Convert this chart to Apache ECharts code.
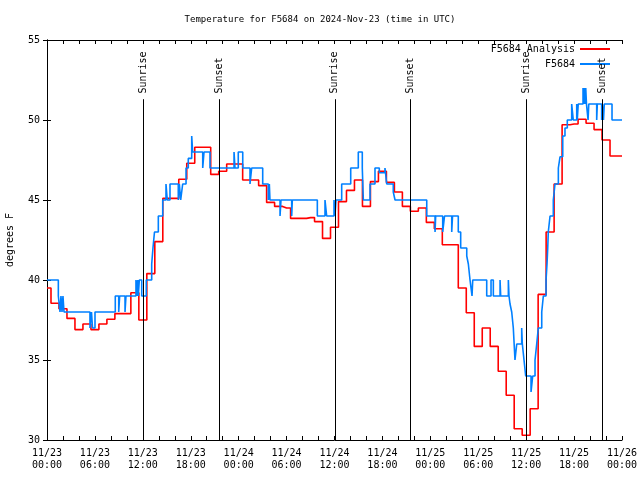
<!DOCTYPE html>
<html>
<head>
<meta charset="utf-8">
<script src="https://cdn.jsdelivr.net/npm/echarts@6/dist/echarts.min.js"></script>
<style>html,body{margin:0;padding:0;background:#fff;}#c{width:640px;height:480px;}</style>
</head>
<body>
<div id="c"></div>
<script>
// Hourly analysis temperatures (hour 0 = 11/23 00:00 UTC)
const analysisTemps = [39.5,38.55,38.2,37.6,36.9,37.25,36.9,37.25,37.55,37.9,37.9,39.2,37.5,40.4,42.4,45.1,45.1,46.3,47.3,48.3,48.3,46.6,46.8,47.25,47.25,46.25,46.25,45.9,44.85,44.6,44.5,43.85,43.85,43.9,43.65,42.6,43.3,44.9,45.6,46.25,44.6,46.15,46.8,46.1,45.5,44.6,44.3,44.5,43.6,43.2,42.2,42.2,39.5,37.95,35.85,37.0,35.85,34.3,32.8,30.7,30.3,31.95,39.1,43.0,46.0,49.7,49.75,50.05,49.8,49.4,48.75,47.75,47.75];
// Station observations: change times (hours since 11/23 00:00 UTC) and temperatures
const stationTimes = [0,1.42,1.63,1.75,1.88,2.00,2.13,5.38,5.57,5.70,6.01,8.55,8.98,9.10,9.77,9.89,11.14,11.27,11.36,11.43,11.56,11.86,12.43,13.11,13.27,13.46,13.94,14.49,14.90,15.06,15.40,16.44,16.57,16.74,16.99,17.41,17.69,18.12,18.24,19.50,19.66,20.41,23.42,23.54,23.95,24.51,25.42,25.63,27.01,27.71,27.84,27.92,29.18,29.30,30.64,30.72,33.85,34.81,35.02,35.94,36.06,36.19,36.90,38.03,38.98,39.48,39.61,40.45,41.07,41.61,42.32,42.54,43.36,43.58,47.55,48.59,48.67,49.55,49.78,50.68,50.78,51.50,51.80,52.56,52.76,52.97,53.22,53.31,55.06,55.60,55.89,56.73,56.81,57.77,57.85,57.98,58.19,58.39,58.60,58.82,59.44,59.52,59.73,59.94,60.61,60.82,61.11,61.32,61.52,61.95,62.15,62.49,62.61,62.70,62.77,62.99,63.40,63.61,64.03,64.24,64.58,64.86,65.15,65.70,65.90,66.33,66.40,66.52,67.12,67.18,67.27,67.36,67.46,67.55,67.75,67.84,68.83,68.91,69.45,69.53,69.68,69.78,70.75,72.00];
const stationTemps = [40,39,38,39,38,39,38,37,38,37,38,39,38,39,38,39,40,39,40,39,40,39,40,41,42,43,44,45,46,45,46,45,46,45,46,47,47.6,49,48,47,48,47,48,47,48,47,46,47,46,45,46,45,44,45,44,45,44,45,44,45,44,45,46,47,48,47,45,46,47,46.7,47,46,45.5,45,44,43,44,43,44,43,44,43,42,41.5,41,40,39,40,39,40,39,40,39,40,39,38.5,38,37,35,36,37,36,35,34,33,34,35,36,37,38,39,40,41,42,43,44,45,46,47,47.7,49,49.5,50,51,50,51,50,51,52,51,52,51,52,51,50,51,50,51,50,51,50,51,50,50];
const sunriseTimes = [12.05, 36.05, 60.07];
const sunsetTimes = [21.57, 45.5, 69.5];
const xTickLabels = ['11/23\n00:00','11/23\n06:00','11/23\n12:00','11/23\n18:00','11/24\n00:00','11/24\n06:00','11/24\n12:00','11/24\n18:00','11/25\n00:00','11/25\n06:00','11/25\n12:00','11/25\n18:00','11/26\n00:00'];
const yTicks = [30,35,40,45,50,55];

const FONT = 'DejaVu Sans Mono';
const chart = echarts.init(document.getElementById('c'), null, {renderer:'canvas'});

const sunLines = [];
const sunLabels = [];
sunriseTimes.forEach(t => {
  sunLines.push([{coord:[t,30]},{coord:[t,51.3]}]);
  sunLabels.push({coord:[t,51.65], value:'Sunrise'});
});
sunsetTimes.forEach(t => {
  sunLines.push([{coord:[t,30]},{coord:[t,51.3]}]);
  sunLabels.push({coord:[t,51.65], value:'Sunset'});
});

const axisLineStyle = {show:true, lineStyle:{color:'#000', width:1}};
const tickStyle = {show:true, inside:true, length:4, lineStyle:{color:'#000', width:1}};

chart.setOption({
  animation:false,
  backgroundColor:'#fff',
  textStyle:{fontFamily:FONT},
  title:{
    text:'Temperature for F5684 on 2024-Nov-23 (time in UTC)',
    left:'center', top:10,
    textStyle:{fontFamily:FONT, fontSize:9, fontWeight:'normal', color:'#000'}
  },
  legend:{
    orient:'vertical', right:30, top:44, align:'right', padding:0,
    itemWidth:30, itemHeight:2, itemGap:5, icon:'rect',
    textStyle:{fontFamily:FONT, fontSize:10, color:'#000'},
    data:['F5684 Analysis','F5684']
  },
  grid:{left:47, right:18, top:40, bottom:40, containLabel:false, outerBoundsMode:'none'},
  xAxis:[{
    type:'value', min:0, max:72, interval:2, position:'bottom',
    axisLine:axisLineStyle, axisTick:tickStyle, splitLine:{show:false},
    axisLabel:{
      fontFamily:FONT, fontSize:10, color:'#000', lineHeight:12, margin:7,
      formatter:v => (v % 6 === 0 ? xTickLabels[v/6] : '')
    }
  },{
    type:'value', min:0, max:72, interval:2, position:'top',
    axisLine:axisLineStyle, axisTick:tickStyle, splitLine:{show:false}, axisLabel:{show:false}
  }],
  yAxis:[{
    type:'value', min:yTicks[0], max:yTicks[yTicks.length-1], interval:5, position:'left',
    name:'degrees F', nameLocation:'middle', nameGap:32, nameRotate:90,
    nameTextStyle:{fontFamily:FONT, fontSize:10, color:'#000'},
    axisLine:axisLineStyle, axisTick:tickStyle, splitLine:{show:false},
    axisLabel:{fontFamily:FONT, fontSize:10, color:'#000', margin:7}
  },{
    type:'value', min:yTicks[0], max:yTicks[yTicks.length-1], interval:5, position:'right',
    axisLine:axisLineStyle, axisTick:tickStyle, splitLine:{show:false}, axisLabel:{show:false}
  }],
  series:[{
    name:'F5684 Analysis', type:'line', step:'middle', showSymbol:false, symbol:'none',
    color:'#ff0000', lineStyle:{color:'#ff0000', width:1.6},
    data:analysisTemps.map((v,i)=>[i,v]),
    markLine:{
      silent:true, symbol:['none','none'], animation:false,
      lineStyle:{color:'#000', width:1, type:'solid'}, label:{show:false},
      data:sunLines
    },
    markPoint:{
      silent:true, symbol:'circle', symbolSize:1, itemStyle:{color:'rgba(0,0,0,0)'},
      label:{show:true, position:'inside', rotate:90, align:'left', verticalAlign:'middle',
        fontFamily:FONT, fontSize:10, color:'#000', formatter:p=>p.value},
      data:sunLabels
    }
  },{
    name:'F5684', type:'line', step:'end', showSymbol:false, symbol:'none',
    color:'#0080ff', lineStyle:{color:'#0080ff', width:1.6},
    data:stationTimes.map((t,i)=>[t, stationTemps[i]])
  }]
});
</script>
</body>
</html>
